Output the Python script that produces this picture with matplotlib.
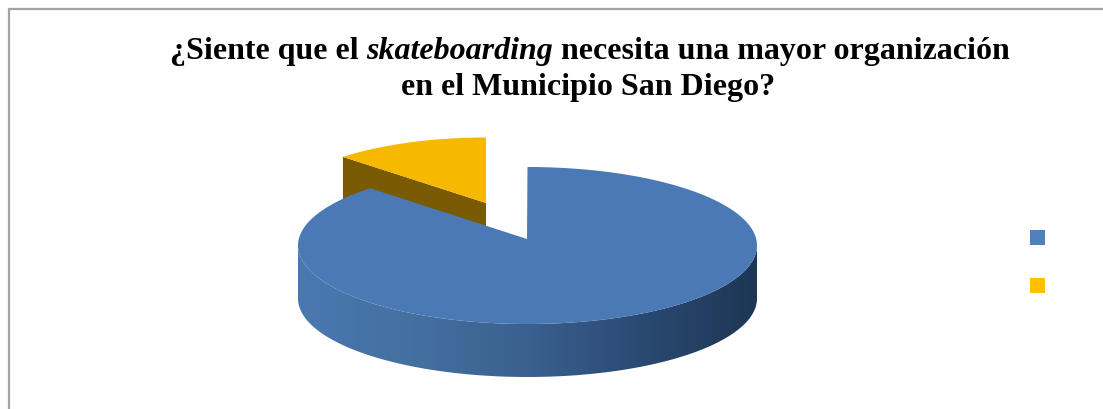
"""Pie chart with a tilted, extruded look, drawn by hand on a pixel-sized axes."""

import matplotlib.pyplot as plt
import numpy as np
from matplotlib.colors import LinearSegmentedColormap
from matplotlib.patches import Polygon, Rectangle

categories = ["Sí", "No"]
shares = [88, 12]
title_line1 = [("¿Siente que el ", "normal"), ("skateboarding", "italic"),
               (" necesita una mayor organización", "normal")]
title_line2 = "en el Municipio San Diego?"

WIDTH, HEIGHT = 1103, 410
BLUE = "#4A79B5"
YELLOW = "#F7B800"
WALL_YELLOW = "#7A5A00"
LEGEND_COLORS = ["#4F81BD", "#FFC000"]


def arc(cx, cy, a, b, start, end, n=200):
    # angles in degrees, clockwise from 12 o'clock
    t = np.radians(np.linspace(start, end, n))
    return np.column_stack([cx + a * np.sin(t), cy - b * np.cos(t)])


fig = plt.figure(figsize=(WIDTH / 100, HEIGHT / 100), dpi=100)
ax = fig.add_axes([0, 0, 1, 1])
ax.set_xlim(0, WIDTH)
ax.set_ylim(HEIGHT, 0)
ax.axis("off")

# frame runs along the top and left only
ax.plot([8.5, 8.5, WIDTH], [HEIGHT, 9.5, 9.5], color="#A3A3A3", lw=1.6,
        solid_joinstyle="miter")

# slice angles come from the shares
main_sweep = 360 * shares[0] / sum(shares)

# yellow slice, pulled out towards the back
yx, yy = 486, 204
ya, yb, yc = 209, 71.5, 210
depth = 50
y_arc = arc(yx, yc, ya, yb, main_sweep, 360, 60)
left = y_arc[0]
ax.add_patch(Polygon([(yx, yy), left, left + (0, depth), (yx, yy + depth)],
                     closed=True, fc=WALL_YELLOW, ec="none", zorder=2))
ax.add_patch(Polygon(np.vstack([[(yx, yy)], y_arc]), closed=True, fc=YELLOW,
                     ec="none", zorder=3))

# main slice
cx, cy, a, b = 527.5, 246.5, 229.5, 78.5
apex = (527, 240)
depth = 53
front = arc(cx, cy, a, b, 90, 270, 200)
wall = np.vstack([front, (front + (0, depth))[::-1]])
shade = LinearSegmentedColormap.from_list(
    "side", ["#4A78B0", "#44709F", "#3A6090", "#2A4A72", "#1D3654"])
img = ax.imshow(np.linspace(0, 1, 256).reshape(1, -1), cmap=shade, aspect="auto",
                extent=(cx - a, cx + a, cy + b + depth, cy - 10), zorder=4)
img.set_clip_path(Polygon(wall, closed=True, transform=ax.transData))
ax.set_xlim(0, WIDTH)
ax.set_ylim(HEIGHT, 0)

top = arc(cx, cy, a, b, 0, main_sweep, 400)
ax.add_patch(Polygon(np.vstack([[apex], top]), closed=True, fc=BLUE, ec="none", zorder=5))

# legend swatches; the entries carry no visible text
for color, y0 in zip(LEGEND_COLORS, [230.5, 278.5]):
    ax.add_patch(Rectangle((1030, y0), 15, 15, fc=color, ec="none", zorder=6))

# title, first line has one italic word so it is laid out piece by piece
font = dict(family="Liberation Serif", fontweight="bold", fontsize=23, color="black")
renderer = fig.canvas.get_renderer()
x = 170
for piece, style in title_line1:
    txt = ax.text(x, 59.5, piece, fontstyle=style, ha="left", va="baseline", **font)
    x = ax.transData.inverted().transform((txt.get_window_extent(renderer).x1, 0))[0]
ax.text(588.5, 95, title_line2, ha="center", va="baseline", **font)

fig.savefig("out.png", dpi=100)
plt.close(fig)
